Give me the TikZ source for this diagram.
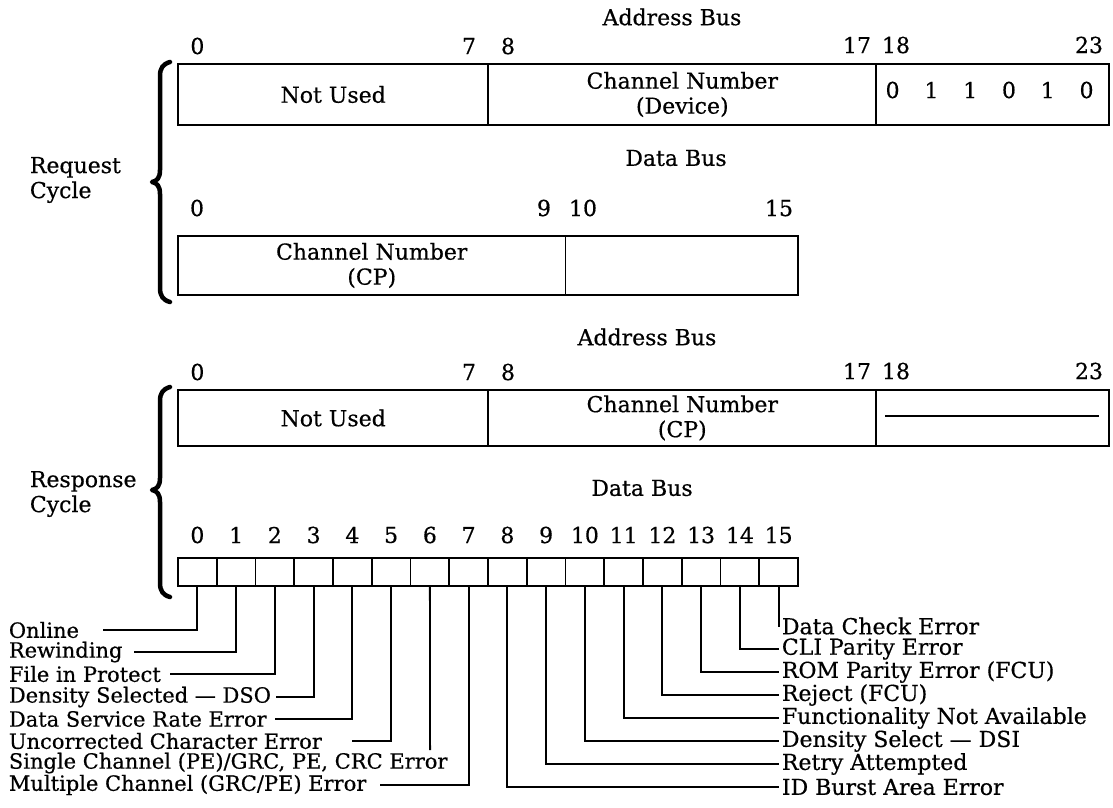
\documentclass[tikz,border=0pt]{standalone}
\usepackage{fontspec}
\setmainfont[FakeBold=0.5]{DejaVu Serif}
\begin{document}
\begin{tikzpicture}[x=1pt,y=-1pt,line width=1.8pt,
  every node/.style={font=\fontsize{22}{25}\selectfont, inner sep=0pt},
  field/.style={draw, line width=1.8pt, minimum height=61pt, align=center},
  dfield/.style={draw, line width=1.8pt, minimum height=59pt, align=center},
  cell/.style={draw, line width=1.8pt, minimum width=38.75pt, minimum height=28pt},
  lab/.style={anchor=west},
  llab/.style={anchor=west, font=\fontsize{21}{23}\selectfont},
  lead/.style={line width=1.8pt},
  bracepath/.style={line width=4.5pt, line cap=round, line join=round}]
\useasboundingbox (0,0) rectangle (1113,807);

% ---------------- Request cycle ----------------
\node (rq) [anchor=west, align=left] at (29,180) {Request\\Cycle};
\draw[bracepath] (170,62) .. controls (163,64) and (160,68) .. (160,76) -- (160,170)
  .. controls (160,178) and (157,181) .. (152,182) .. controls (157,183) and (160,186) .. (160,194)
  -- (160,288) .. controls (160,296) and (163,300) .. (170,302);

\node (rqab) at (672,17) {Address Bus};
\node (rqa0) at (197.4,46) {0};
\node (rqa7) at (469,46) {7};
\node (rqa8) at (508,46) {8};
\node (rqa17) at (857,45) {17};
\node (rqa18) at (896,45) {18};
\node (rqa23) at (1089,45) {23};
\node[field, minimum width=310.3pt] (rqf1) at (333.2,94.5) {Not Used};
\node[field, minimum width=387.9pt] (rqf2) at (682.3,94.5) {Channel Number\\(Device)};
\node[field, minimum width=232.8pt] (rqf3) at (992.6,94.5) {};
\foreach \b [count=\k from 0] in {0,1,1,0,1,0}
  \node (rqbit\k) at ({876.2+38.79*(\k+0.5)-3},90) {\b};

\node (rqdb) at (676,158) {Data Bus};
\node (rqd0) at (197,208) {0};
\node (rqd9) at (544,208) {9};
\node (rqd10) at (583,208) {10};
\node (rqd15) at (779,208) {15};
\node[dfield, minimum width=387.5pt] (rqd1) at (371.75,265.5) {Channel Number\\(CP)};
\node[dfield, minimum width=232.5pt] (rqd2) at (681.75,265.5) {};

% ---------------- Response cycle ----------------
\node (rs) [anchor=west, align=left] at (29,494) {Response\\Cycle};
\draw[bracepath] (170,387) .. controls (163,389) and (160,393) .. (160,401) -- (160,478)
  .. controls (160,486) and (157,489) .. (152,490) .. controls (157,491) and (160,494) .. (160,502)
  -- (160,583) .. controls (160,591) and (163,595) .. (170,597);

\node (rsab) at (647,337) {Address Bus};
\node (rsa0) at (197.4,372) {0};
\node (rsa7) at (469,372) {7};
\node (rsa8) at (508,372) {8};
\node (rsa17) at (857,371) {17};
\node (rsa18) at (896,371) {18};
\node (rsa23) at (1089,371) {23};
\node[field, minimum width=310.3pt, minimum height=56pt] (rsf1) at (333.2,418) {Not Used};
\node[field, minimum width=387.9pt, minimum height=56pt] (rsf2) at (682.3,418) {Channel Number\\(CP)};
\node[field, minimum width=232.8pt, minimum height=56pt] (rsf3) at (992.6,418) {};
\coordinate (dashA) at (885,416);
\coordinate (dashB) at (1099,416);
\draw (dashA) -- (dashB);

\node (rsdb) at (642,488) {Data Bus};
\foreach \i in {0,...,15} {
  \node[cell] (c\i) at ({178+38.75*(\i+0.5)},572) {};
  \node (n\i) at ({178+38.75*(\i+0.5)},535) {\i};
}

% left labels
\node[llab] (l0) at (8,630) {Online};
\node[llab] (l1) at (8,652) {Rewinding};
\node[llab] (l2) at (8,674) {File in Protect};
\node[llab] (l3) at (8,697) {Density Selected — DSO};
\node[llab] (l4) at (8,719) {Data Service Rate Error};
\node[llab] (l5) at (8,741) {Uncorrected Character Error};
\node[llab] (l6) at (8,763) {Single Channel (PE)/GRC, PE, CRC Error};
\node[llab] (l7) at (8,785) {Multiple Channel (GRC/PE) Error};
\draw[lead] (c0.south) |- ([xshift=23pt]l0.east);
\draw[lead] (c1.south) |- ([xshift=11pt]l1.east);
\draw[lead] (c2.south) |- ([xshift=8pt]l2.east);
\draw[lead] (c3.south) |- ([xshift=4pt]l3.east);
\draw[lead] (c4.south) |- ([xshift=7pt]l4.east);
\draw[lead] (c5.south) |- ([xshift=29pt]l5.east);
\coordinate (e6) at (430.1,750);
\draw[lead] (c6.south) -- (e6);
\draw[lead] (c7.south) |- ([xshift=13pt]l7.east);

% right labels
\node[lab] (r15) at (781,626) {Data Check Error};
\node[lab] (r14) at (781,649) {CLI Parity Error};
\node[lab] (r13) at (781,672) {ROM Parity Error (FCU)};
\node[lab] (r12) at (781,695) {Reject (FCU)};
\node[lab] (r11) at (781,718) {Functionality Not Available};
\node[lab] (r10) at (781,741) {Density Select — DSI};
\node[lab] (r9) at (781,764) {Retry Attempted};
\node[lab] (r8) at (781,787) {ID Burst Area Error};
\foreach \i in {8,...,15}
  \draw[lead] (c\i.south) |- ([xshift=-2pt]r\i.west);
\end{tikzpicture}
\end{document}
